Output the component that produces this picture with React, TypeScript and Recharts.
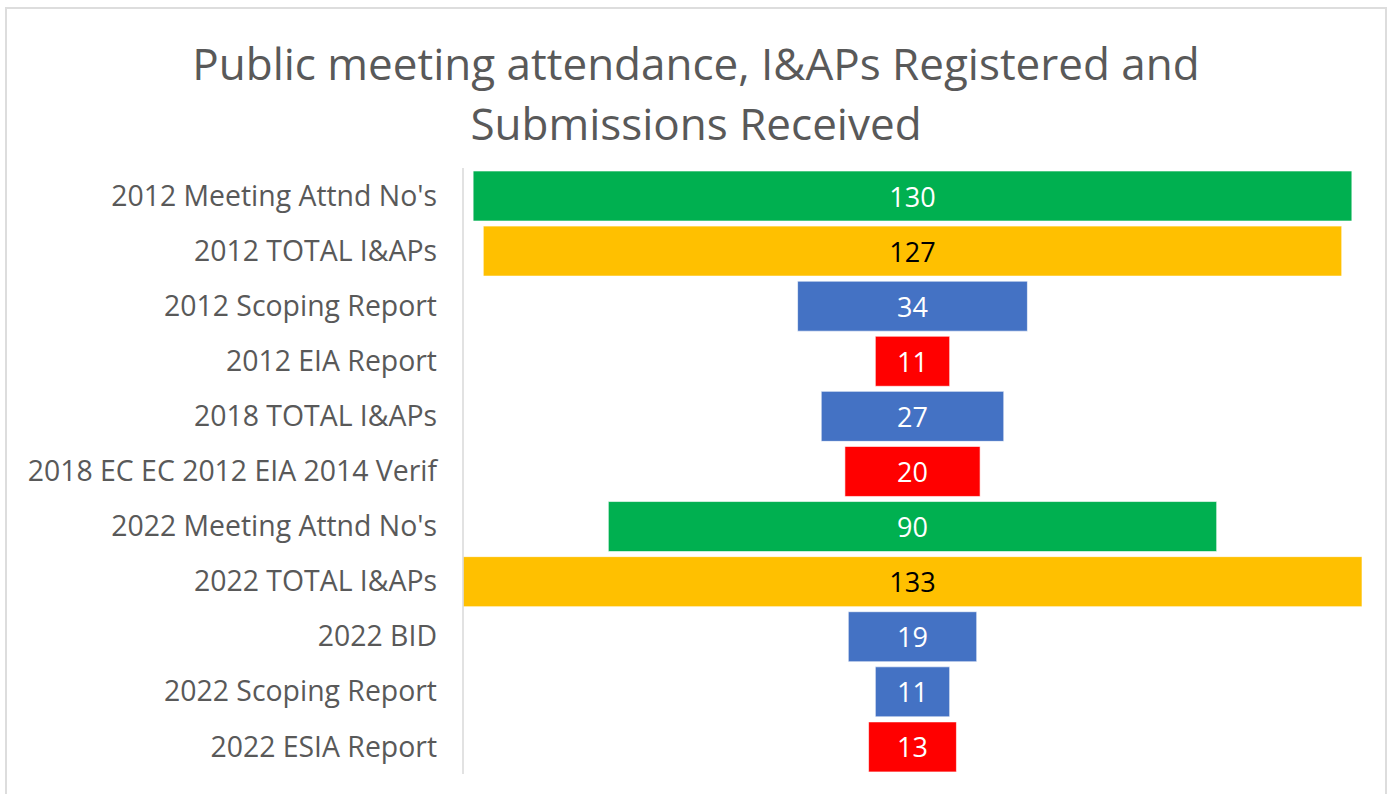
import React from "react";
import { BarChart, Bar, XAxis, YAxis, Cell, LabelList } from "recharts";

const categories = [
  "2012 Meeting Attnd No's",
  "2012 TOTAL I&APs",
  "2012 Scoping Report",
  "2012 EIA Report",
  "2018 TOTAL I&APs",
  "2018 EC EC 2012 EIA 2014 Verif",
  "2022 Meeting Attnd No's",
  "2022 TOTAL I&APs",
  "2022 BID",
  "2022 Scoping Report",
  "2022 ESIA Report",
];
const values = [130, 127, 34, 11, 27, 20, 90, 133, 19, 11, 13];
const colors = [
  "#00B050", "#FFC000", "#4472C4", "#FF0000", "#4472C4", "#FF0000",
  "#00B050", "#FFC000", "#4472C4", "#4472C4", "#FF0000",
];
const labelColors = [
  "#FFFFFF", "#000000", "#FFFFFF", "#FFFFFF", "#FFFFFF", "#FFFFFF",
  "#FFFFFF", "#000000", "#FFFFFF", "#FFFFFF", "#FFFFFF",
];
const titleLines = [
  "Public meeting attendance, I&APs Registered and",
  "Submissions Received",
];

const maxValue = Math.max(...values);
const data = categories.map((name, i) => ({
  name,
  offset: (maxValue - values[i]) / 2,
  value: values[i],
  idx: i,
}));

const FONT = "'Open Sans', 'Noto Sans', sans-serif";

const renderLabel = (props: any) => {
  const { x, y, width, height, value, index } = props;
  return (
    <text
      x={x + width / 2}
      y={y + height / 2}
      textAnchor="middle"
      dominantBaseline="central"
      fill={labelColors[index]}
      fontSize={27}
      fontFamily={FONT}
    >
      {value}
    </text>
  );
};

export default function App() {
  return (
    <div
      style={{
        position: "absolute",
        left: 5,
        top: 7,
        width: 1378,
        height: 800,
        border: "2px solid #DDDDDD",
        background: "#FFFFFF",
        fontFamily: FONT,
      }}
    >
      <div
        style={{
          position: "absolute",
          left: 0,
          top: 24,
          width: 1378,
          textAlign: "center",
          color: "#595959",
          fontSize: 44,
          lineHeight: "60px",
        }}
      >
        {titleLines.map((t) => (
          <div key={t}>{t}</div>
        ))}
      </div>
      <div style={{ position: "absolute", left: 0, top: 0 }}>
        <BarChart
          width={1376}
          height={786}
          data={data}
          layout="vertical"
          margin={{ top: 159, right: 21, bottom: 21, left: 0 }}
        >
          <XAxis type="number" domain={[0, maxValue]} hide />
          <YAxis
            type="category"
            dataKey="name"
            width={456}
            tickLine={false}
            tickSize={0}
            tickMargin={26}
            axisLine={{ stroke: "#D9D9D9", strokeWidth: 1.5 }}
            tick={{ fill: "#595959", fontSize: 28.4, fontFamily: FONT }}
            interval={0}
          />
          <Bar
            dataKey="offset"
            stackId="a"
            fill="transparent"
            barSize={50}
            isAnimationActive={false}
          />
          <Bar
            dataKey="value"
            stackId="a"
            barSize={50}
            stroke="#FFFFFF"
            strokeOpacity={0.6}
            strokeWidth={1}
            isAnimationActive={false}
          >
            {data.map((d, i) => (
              <Cell key={d.name} fill={colors[i]} />
            ))}
            <LabelList dataKey="value" content={renderLabel} />
          </Bar>
        </BarChart>
      </div>
    </div>
  );
}
